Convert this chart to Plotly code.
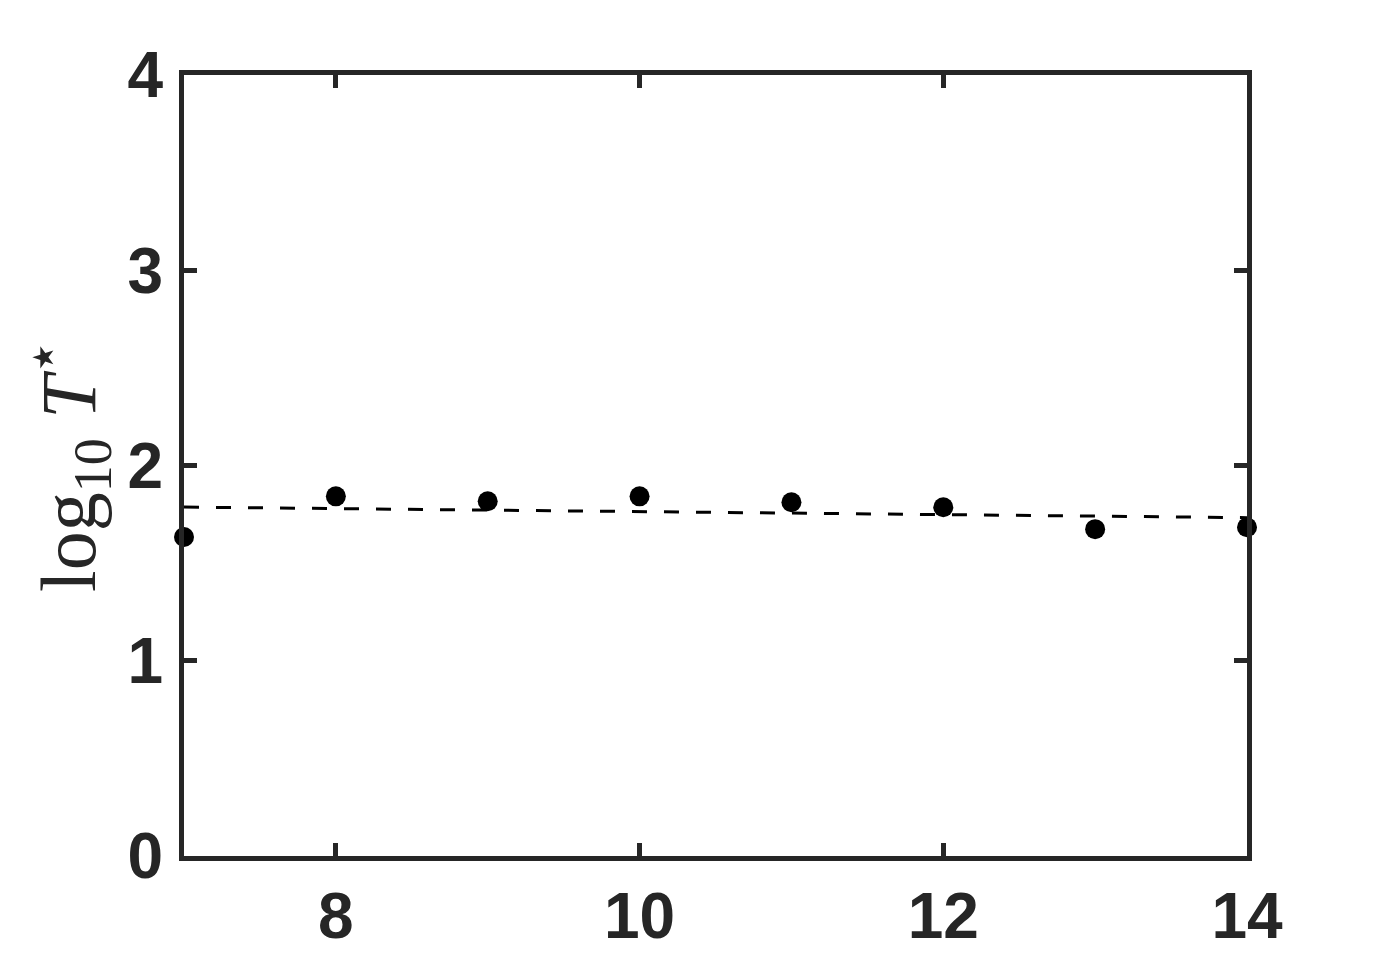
import plotly.graph_objects as go

# data
n_vals = [7, 8, 9, 10, 11, 12, 13, 14]
log_t_star = [1.634, 1.842, 1.817, 1.842, 1.812, 1.786, 1.674, 1.684]

# dashed fit line end points
fit_x = [7, 14]
fit_y = [1.787, 1.733]

x_ticks = [8, 10, 12, 14]
y_ticks = [0, 1, 2, 3, 4]

AXIS_COL = '#262626'

fig = go.Figure()

fig.add_trace(go.Scatter(
    x=fit_x, y=fit_y, mode='lines',
    line=dict(color='black', width=3, dash='15px,17px'),
    showlegend=False, hoverinfo='skip'
))

fig.add_trace(go.Scatter(
    x=n_vals, y=log_t_star, mode='markers',
    marker=dict(color='black', size=20),
    cliponaxis=False, showlegend=False
))

tick_font = dict(family='Liberation Sans, Arial', size=64, color=AXIS_COL, weight='bold')

fig.update_xaxes(
    range=[7, 14], tickvals=x_ticks, ticktext=[str(v) for v in x_ticks],
    showgrid=False, zeroline=False,
    showline=True, linewidth=5, linecolor=AXIS_COL, mirror='allticks',
    ticks='inside', ticklen=13, tickwidth=5, tickcolor=AXIS_COL,
    tickfont=tick_font, ticklabelstandoff=0
)
fig.update_yaxes(
    range=[0, 4], tickvals=y_ticks, ticktext=[str(v) for v in y_ticks],
    showgrid=False, zeroline=False,
    showline=True, linewidth=5, linecolor=AXIS_COL, mirror='allticks',
    ticks='inside', ticklen=13, tickwidth=5, tickcolor=AXIS_COL,
    tickfont=tick_font, ticklabelstandoff=3,
    title=dict(
        text=('log<sub><span style="font-size:54px">10</span></sub> '
              '<i>T</i><sup><span style="font-family:DejaVu Sans;font-size:58px">⋆</span></sup>'),
        font=dict(family='Liberation Serif, DejaVu Serif', size=78, color=AXIS_COL),
        standoff=10
    )
)

fig.update_layout(
    width=1381, height=964,
    margin=dict(l=176, r=142, t=67, b=116, autoexpand=False),
    paper_bgcolor='white', plot_bgcolor='white'
)

fig.write_html("out.html")
